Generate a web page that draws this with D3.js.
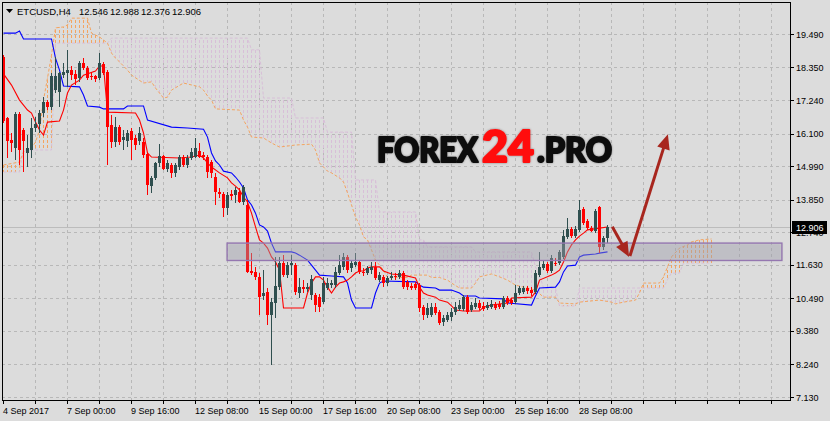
<!DOCTYPE html>
<html><head><meta charset="utf-8">
<script src="https://cdnjs.cloudflare.com/ajax/libs/d3/7.8.5/d3.min.js"></script>
<style>
html,body{margin:0;padding:0;background:#dcdcdc;overflow:hidden;}
svg{display:block;font-family:"Liberation Sans",Arial,sans-serif;}
</style></head><body>
<svg id="chart" width="830" height="421"></svg>
<script>
// ================= DATA =================
const symbol = "ETCUSD,H4";
const lastBar = [12.546, 12.988, 12.376, 12.906]; // open, high, low, close
const lastPrice = 12.906;
const priceTicks = [19.490, 18.350, 17.240, 16.100, 14.990, 13.850, 12.740, 11.630, 10.490, 9.380, 8.240, 7.130];
const timeLabels = ["4 Sep 2017", "7 Sep 00:00", "9 Sep 16:00", "12 Sep 08:00", "15 Sep 00:00",
                    "17 Sep 16:00", "20 Sep 08:00", "23 Sep 00:00", "25 Sep 16:00", "28 Sep 08:00"];

// H4 candles: [open, high, low, close]
const candles = [
[18.71,18.78,16.46,16.53],[16.63,16.66,15.27,15.85],[15.88,16.12,15.47,15.78],[15.61,16.83,15.20,16.77],
[16.77,16.83,15.03,15.54],[16.22,16.29,14.79,15.85],[15.44,16.05,14.96,15.61],[15.54,16.63,15.27,16.29],
[16.29,16.66,16.15,16.43],[16.43,16.90,16.12,16.80],[16.80,17.35,16.66,17.17],[17.17,17.24,16.90,17.00],
[17.00,18.16,16.90,18.06],[17.58,18.71,17.48,18.06],[17.51,18.20,17.00,18.16],[18.09,18.50,17.99,18.20],
[18.16,18.95,17.69,18.26],[18.26,18.40,17.92,18.09],[18.13,18.26,17.75,17.96],[17.99,18.57,17.86,18.50],
[18.50,18.67,18.26,18.33],[18.33,18.40,17.92,17.99],[18.06,18.20,17.92,18.03],[18.06,18.09,17.86,17.96],
[17.99,18.84,17.92,18.50],[18.47,18.54,18.09,18.16],[18.20,18.26,15.03,16.32],[16.39,16.73,15.61,15.81],
[15.81,16.66,15.64,16.32],[16.32,16.39,15.71,15.81],[15.88,16.22,15.54,15.98],[15.85,16.22,15.64,16.12],
[16.19,16.29,15.20,15.88],[15.95,16.05,15.54,15.71],[15.85,16.32,15.71,16.12],[15.81,15.95,15.27,15.37],
[15.40,15.47,14.01,14.35],[14.31,14.65,14.07,14.59],[14.59,15.13,14.52,15.10],[15.10,15.75,14.96,15.33],
[15.33,15.37,14.86,14.89],[14.89,15.20,14.79,15.10],[15.03,15.10,14.59,14.76],[14.76,15.10,14.62,15.03],
[14.96,15.37,14.86,15.30],[15.30,15.37,14.96,15.03],[15.03,15.37,14.93,15.27],[15.27,15.61,15.20,15.47],
[15.30,15.95,15.27,15.61],[15.51,15.78,15.27,15.30],[15.37,15.47,15.20,15.30],[15.30,15.37,14.59,14.79],
[15.13,15.20,14.59,14.76],[14.62,14.76,13.67,14.11],[14.11,14.24,13.91,14.04],[14.04,14.11,13.26,13.57],
[13.57,14.11,13.33,14.01],[14.04,14.18,13.84,13.97],[14.01,14.28,13.73,14.18],[14.11,14.24,13.73,13.77],
[13.77,14.35,13.67,14.28],[13.67,13.84,11.35,11.39],[11.42,12.03,11.28,11.35],[11.39,11.56,11.11,11.22],
[11.22,11.35,9.92,10.53],[10.57,11.45,10.43,10.67],[10.70,10.84,9.58,9.92],[9.92,10.50,8.22,10.36],
[10.33,11.90,9.82,10.91],[10.87,11.90,10.77,11.69],[11.69,11.96,11.22,11.28],[11.28,11.73,11.18,11.62],
[11.62,11.96,11.28,11.69],[11.62,11.69,10.60,10.70],[10.67,11.18,10.50,10.87],[10.87,11.11,10.67,10.80],
[10.80,11.01,10.70,10.87],[10.60,11.28,10.43,11.15],[10.60,10.67,10.02,10.26],[10.53,10.63,10.02,10.19],
[10.36,11.22,10.30,11.01],[10.84,11.18,10.77,11.01],[10.94,11.11,10.84,11.01],[10.94,11.56,10.84,11.39],
[11.35,11.96,11.28,11.62],[11.56,12.03,11.45,11.90],[11.90,11.96,11.35,11.45],[11.52,11.79,11.39,11.69],
[11.62,12.03,11.56,11.73],[11.73,11.79,11.32,11.39],[11.39,11.52,11.25,11.35],[11.35,11.59,11.28,11.52],
[11.45,11.73,11.32,11.56],[11.56,11.73,11.11,11.18],[11.11,11.39,11.05,11.28],[11.22,11.28,10.87,11.01],
[11.01,11.25,10.91,11.18],[11.18,11.39,11.11,11.25],[11.25,11.35,11.11,11.22],[11.22,11.45,11.15,11.35],
[11.35,11.42,10.80,10.87],[11.05,11.11,10.77,10.87],[10.91,11.01,10.77,10.84],[10.98,11.05,10.77,10.84],
[10.94,11.01,10.02,10.16],[10.19,10.26,9.75,9.92],[9.92,10.33,9.82,10.16],[9.92,10.33,9.85,10.19],
[10.19,10.33,9.92,9.99],[10.02,10.09,9.58,9.65],[9.68,9.92,9.55,9.82],[9.75,10.02,9.68,9.92],
[9.85,10.16,9.72,10.02],[10.02,10.36,9.92,10.19],[10.13,10.43,10.06,10.26],[10.13,10.60,10.06,10.53],
[10.53,10.60,9.96,10.02],[10.09,10.36,10.02,10.26],[10.19,10.50,10.13,10.33],[10.33,10.43,10.09,10.16],
[10.23,10.36,10.06,10.13],[10.16,10.36,10.09,10.26],[10.19,10.43,10.13,10.30],[10.30,10.36,10.09,10.16],
[10.30,10.40,10.13,10.19],[10.19,10.57,10.13,10.50],[10.50,10.57,10.26,10.33],[10.43,10.50,10.26,10.33],
[10.36,10.94,10.30,10.67],[10.67,10.91,10.60,10.84],[10.70,10.91,10.63,10.84],[10.84,10.91,10.63,10.74],
[10.77,10.87,10.57,10.67],[10.70,11.45,10.63,11.35],[11.28,12.07,11.22,11.56],[11.52,11.79,11.45,11.66],
[11.66,11.73,11.35,11.42],[11.42,11.96,11.35,11.86],[11.69,11.86,11.59,11.66],[11.69,12.14,11.62,12.07],
[11.90,12.82,11.83,12.61],[12.58,13.22,12.51,12.85],[12.85,12.92,12.54,12.61],[12.61,12.95,12.54,12.85],
[12.82,13.84,12.75,13.50],[13.53,13.60,12.98,13.05],[13.12,13.19,12.82,12.88],[12.88,12.95,12.75,12.78],
[12.78,13.53,12.71,13.46],[13.60,13.63,12.03,12.24],[12.24,12.61,12.14,12.54],[12.546,12.988,12.376,12.906]
];

// Ichimoku lines, read as [bar, price] vertices
const tenkan = [[0,18.13],[2,17.75],[4,17.24],[6,16.90],[7,16.80],[8,16.49],[9,16.22],[10,16.05],[11,16.49],[14,16.53],
[15,16.90],[16,17.48],[17,17.75],[19,17.92],[20,18.09],[23,18.23],[24,18.40],[25,18.40],[26,16.83],[33,16.80],
[34,16.56],[35,16.12],[36,15.44],[37,15.30],[44,15.27],[47,15.30],[49,15.37],[50,15.27],[51,15.10],[52,14.96],
[54,14.76],[56,14.59],[57,14.42],[58,14.31],[59,14.18],[60,13.94],[61,13.77],[62,13.39],[63,12.92],[64,12.48],
[65,12.37],[66,12.20],[67,11.90],[68,11.73],[69,11.45],[70,10.16],[75,10.16],[76,10.67],[77,11.01],[78,11.22],
[79,11.22],[80,11.11],[81,10.87],[82,10.67],[83,10.87],[84,11.01],[85,11.05],[86,11.11],[87,11.22],[88,11.35],
[89,11.42],[90,11.42],[91,11.52],[92,11.56],[94,11.56],[95,11.42],[97,11.32],[100,11.28],[103,11.18],[104,10.87],
[105,10.67],[106,10.60],[108,10.53],[109,10.43],[111,10.36],[112,10.23],[113,10.09],[115,10.06],[119,10.06],[120,10.19],
[122,10.26],[126,10.33],[127,10.50],[132,10.53],[133,10.70],[134,11.11],[137,11.28],[138,11.35],[139,11.45],[140,11.73],
[141,12.07],[142,12.31],[143,12.48],[144,12.61],[145,12.71],[146,12.82],[149,12.88],[151,12.92]];

const kijun = [[0,19.52],[3,19.52],[4,19.59],[5,19.32],[12,19.32],[13,18.67],[14,18.26],[15,17.72],[19,17.69],[20,17.41],
[21,17.04],[24,17.00],[25,16.94],[30,16.94],[31,17.04],[35,17.04],[36,16.56],[42,16.32],[46,16.29],[50,16.25],
[51,15.98],[52,15.44],[53,15.17],[54,15.03],[55,14.82],[57,14.76],[58,14.62],[59,14.45],[60,14.25],[61,13.84],
[62,13.67],[63,13.39],[64,12.99],[65,12.92],[66,12.78],[67,12.37],[68,12.07],[72,12.07],[73,12.03],[74,11.96],
[76,11.79],[77,11.62],[78,11.45],[79,11.28],[82,11.25],[85,11.22],[86,11.01],[87,10.43],[88,10.16],[92,10.16],
[93,10.67],[94,11.01],[95,11.08],[103,11.05],[104,10.94],[105,10.87],[108,10.84],[109,10.77],[112,10.77],[114,10.67],
[115,10.57],[118,10.57],[119,10.50],[125,10.47],[126,10.33],[132,10.26],[133,10.57],[134,10.84],[138,10.87],[139,11.05],
[140,11.39],[141,11.59],[143,11.62],[144,11.90],[145,11.96],[148,12.00],[149,12.03],[151,12.07]];

const spanA = [[0,15.03],[4,15.13],[5,15.47],[7,15.61],[8,15.81],[9,16.22],[10,17.24],[11,17.99],[12,18.77],[13,19.70],
[15,19.73],[16,19.80],[17,20.03],[21,20.03],[22,19.52],[24,19.39],[26,19.18],[27,18.84],[28,18.67],[29,18.54],
[31,18.26],[32,18.09],[35,17.82],[37,17.86],[38,17.65],[39,17.48],[40,17.31],[41,17.34],[42,17.58],[45,17.82],
[49,17.69],[50,17.58],[51,17.38],[52,17.24],[53,16.94],[59,16.90],[60,16.56],[61,16.32],[62,15.98],[65,15.95],
[67,15.78],[69,15.64],[73,15.71],[77,15.74],[78,15.54],[79,15.10],[81,14.82],[82,14.76],[84,14.59],[85,14.45],
[86,14.08],[87,13.67],[88,13.26],[89,12.99],[90,12.58],[91,12.48],[92,12.14],[93,11.79],[94,11.62],[95,11.45],
[96,11.20],[101,11.20],[102,11.28],[106,11.28],[107,11.20],[109,11.20],[110,11.15],[111,11.11],[112,11.01],[114,10.84],
[117,10.84],[118,11.01],[119,11.22],[122,11.32],[124,11.22],[126,11.11],[128,10.94],[131,10.84],[133,10.77],[135,10.53],
[138,10.53],[139,10.33],[143,10.30],[144,10.36],[149,10.43],[152,10.36],[153,10.30],[155,10.36],[158,10.43],[159,10.67],
[160,11.01],[164,11.01],[165,11.22],[166,11.56],[167,11.90],[169,12.20],[171,12.31],[172,12.41],[174,12.48],[177,12.51]];

const spanB = [[0,14.79],[4,14.79],[5,15.54],[12,15.54],[13,19.18],[26,19.18],[27,19.35],[61,19.35],[62,18.95],[64,18.95],
[65,17.31],[72,17.31],[73,16.63],[80,16.63],[81,16.15],[87,16.15],[88,14.52],[93,14.52],[94,13.43],[103,13.43],
[104,12.48],[105,12.48],[106,12.24],[117,12.24],[118,12.07],[132,12.07],[133,11.56],[134,11.29],[135,10.84],[138,10.84],
[139,10.23],[143,10.23],[144,10.84],[165,10.84],[166,11.13],[167,11.35],[169,11.35],[170,11.69],[177,11.69]];

// annotations (bar / price units)
const zone = { fromBar: 55.9, toBar: 194.6, low: 11.78, high: 12.37 };
const arrowDown = [[152.2, 12.93], [156.4, 11.90]];
const arrowUp = [[156.6, 11.93], [166.1, 16.08]];

// ================= DRAW =================
const svg = d3.select("#chart");
const L = 2, R = 790, T = 2, B = 400;
const x = d3.scaleLinear().domain([0, 196.625]).range([3.5, 790]);
const y = d3.scaleLinear().domain([7.13, 19.49]).range([397, 34]);
const step = x(1) - x(0);

svg.append("rect").attr("width", 830).attr("height", 421).attr("fill", "#dcdcdc");

const defs = svg.append("defs");
const plotClip = defs.append("clipPath").attr("id", "plot");
plotClip.append("rect").attr("x", L).attr("y", T).attr("width", R - L).attr("height", B - T);

// grid
const grid = svg.append("g").attr("stroke", "#b8b8b8").attr("stroke-width", 1).attr("stroke-dasharray", "3,3")
  .attr("shape-rendering", "crispEdges");
grid.selectAll("line.h").data(priceTicks).join("line")
  .attr("x1", L).attr("x2", R)
  .attr("y1", d => Math.round(y(d)) + 0.5).attr("y2", d => Math.round(y(d)) + 0.5);
const vBars = d3.range(8, 197, 8);
grid.selectAll("line.v").data(vBars).join("line")
  .attr("x1", d => x(d)).attr("x2", d => x(d)).attr("y1", T).attr("y2", B);

// price line
svg.append("line").attr("x1", L).attr("x2", R)
  .attr("y1", Math.round(y(lastPrice)) + 0.5).attr("y2", Math.round(y(lastPrice)) + 0.5)
  .attr("stroke", "#bcbcbc").attr("shape-rendering", "crispEdges");

// watermark (one text element, heavy letters)
const glow = defs.append("filter").attr("id", "glow").attr("x", "-10%").attr("y", "-30%").attr("width", "120%").attr("height", "160%");
glow.append("feDropShadow").attr("dx", 0).attr("dy", 0).attr("stdDeviation", 1.2).attr("flood-color", "#000").attr("flood-opacity", 0.4);
const wm = svg.append("text").attr("x", 377).attr("y", 162)
  .attr("font-family", "Lato, 'Open Sans', sans-serif").attr("font-weight", 900)
  .attr("stroke-linejoin", "round").attr("paint-order", "stroke").attr("filter", "url(#glow)");
wm.append("tspan").attr("font-size", 34).attr("fill", "#111").attr("stroke", "#111").attr("stroke-width", 2.2)
  .attr("textLength", 101).attr("lengthAdjust", "spacingAndGlyphs").text("FOREX");
wm.append("tspan").attr("x", 482).attr("font-size", 44).attr("fill", "#ff1010").attr("stroke", "#ff1010").attr("stroke-width", 2.2)
  .attr("textLength", 52).attr("lengthAdjust", "spacingAndGlyphs").text("24");
wm.append("tspan").attr("x", 537).attr("font-size", 34).attr("fill", "#111").attr("stroke", "#111").attr("stroke-width", 2.2)
  .attr("textLength", 75).attr("lengthAdjust", "spacingAndGlyphs").text(".PRO");

// ---- Ichimoku cloud ----
function region(id, pts, side) {
  const edge = side === "below" ? B : T;
  const p = pts.map(d => [x(d[0]), y(d[1])]);
  p.unshift([p[0][0] - 1.5, p[0][1]]);
  p.push([p[p.length - 1][0] + 1.5, p[p.length - 1][1]]);
  p.push([p[p.length - 1][0], edge]);
  p.push([p[0][0], edge]);
  defs.append("clipPath").attr("id", id).append("path").attr("d", "M" + p.join("L") + "Z");
}
region("belowA", spanA, "below"); region("aboveA", spanA, "above");
region("belowB", spanB, "below"); region("aboveB", spanB, "above");

function hatch(id, color) {
  const p = defs.append("pattern").attr("id", id).attr("patternUnits", "userSpaceOnUse")
    .attr("x", x(0) - 0.5).attr("y", 0).attr("width", step).attr("height", 5);
  p.append("rect").attr("x", 0).attr("y", 0).attr("width", 1).attr("height", 3).attr("fill", color);
}
hatch("hSandy", "#f4a460"); hatch("hThistle", "#d8bfd8");
const cloudX0 = x(0) - 1, cloudX1 = x(spanA[spanA.length - 1][0]) + 1;
function cloud(c1, c2, pat) {
  svg.append("g").attr("clip-path", `url(#${c1})`).append("g").attr("clip-path", `url(#${c2})`)
    .append("rect").attr("x", cloudX0).attr("y", T).attr("width", cloudX1 - cloudX0).attr("height", B - T)
    .attr("fill", `url(#${pat})`);
}
cloud("belowA", "aboveB", "hSandy");
cloud("belowB", "aboveA", "hThistle");

const line = d3.line().x(d => x(d[0])).y(d => y(d[1]));
const lines = svg.append("g").attr("clip-path", "url(#plot)").attr("fill", "none");
lines.append("path").attr("d", line(spanB)).attr("stroke", "#d8bfd8").attr("stroke-dasharray", "3,2");
lines.append("path").attr("d", line(spanA)).attr("stroke", "#f4a460").attr("stroke-dasharray", "3,2");

// ---- candles ----
const cg = svg.append("g").attr("shape-rendering", "crispEdges");
const bull = d => d[3] >= d[0];
cg.selectAll("line.w").data(candles).join("line")
  .attr("x1", (d, i) => x(i)).attr("x2", (d, i) => x(i))
  .attr("y1", d => y(d[1])).attr("y2", d => y(d[2]))
  .attr("stroke", d => bull(d) ? "#2f4f4f" : "#ff0000");
cg.selectAll("rect.b").data(candles).join("rect")
  .attr("x", (d, i) => x(i) - 1.5).attr("width", 3)
  .attr("y", d => y(Math.max(d[0], d[3])))
  .attr("height", d => Math.max(1, y(Math.min(d[0], d[3])) - y(Math.max(d[0], d[3]))))
  .attr("fill", d => bull(d) ? "#2f4f4f" : "#ff0000");

// Tenkan / Kijun
lines.append("path").attr("d", line(kijun)).attr("stroke", "#0000ff").attr("stroke-width", 1.1);
lines.append("path").attr("d", line(tenkan)).attr("stroke", "#ff0000").attr("stroke-width", 1.1);

// ---- zone ----
const zShadow = defs.append("filter").attr("id", "zsh").attr("x", "-5%").attr("y", "-50%").attr("width", "110%").attr("height", "200%");
zShadow.append("feGaussianBlur").attr("stdDeviation", 1.2);
const zx0 = x(zone.fromBar), zx1 = x(zone.toBar), zy0 = y(zone.high), zy1 = y(zone.low);
svg.append("rect").attr("x", zx0).attr("y", zy0).attr("width", zx1 - zx0).attr("height", zy1 - zy0)
  .attr("fill", "#9c9ca8").attr("fill-opacity", 0.45).attr("filter", "url(#zsh)");
svg.append("rect").attr("x", zx0).attr("y", zy0).attr("width", zx1 - zx0).attr("height", zy1 - zy0)
  .attr("fill", "none").attr("stroke", "#9577b0").attr("stroke-width", 1.4);

// ---- arrows ----
const ac = "#a8261e";
function arrow(a) {
  const x0 = x(a[0][0]), y0 = y(a[0][1]), x1 = x(a[1][0]), y1 = y(a[1][1]);
  const dx = x1 - x0, dy = y1 - y0, len = Math.hypot(dx, dy), ux = dx / len, uy = dy / len;
  const hl = 15, hw = 6.5, bx = x1 - ux * hl, by = y1 - uy * hl;
  svg.append("line").attr("x1", x0).attr("y1", y0).attr("x2", bx + ux * 3).attr("y2", by + uy * 3)
    .attr("stroke", ac).attr("stroke-width", 3);
  svg.append("path").attr("d", `M${x1},${y1}L${bx - uy * hw},${by + ux * hw}L${bx + uy * hw},${by - ux * hw}Z`)
    .attr("fill", ac);
}
arrow(arrowDown); arrow(arrowUp);

// ---- frame & axes ----
const frame = svg.append("g").attr("stroke", "#000").attr("shape-rendering", "crispEdges");
frame.append("line").attr("x1", L + 0.5).attr("x2", L + 0.5).attr("y1", T).attr("y2", B + 1);
frame.append("line").attr("x1", L).attr("x2", R + 1).attr("y1", T + 0.5).attr("y2", T + 0.5);
frame.append("line").attr("x1", R + 0.5).attr("x2", R + 0.5).attr("y1", T).attr("y2", B + 1);
frame.append("line").attr("x1", L).attr("x2", R + 1).attr("y1", B + 0.5).attr("y2", B + 0.5);

const ya = svg.append("g");
ya.selectAll("line").data(priceTicks).join("line")
  .attr("x1", R).attr("x2", R + 4)
  .attr("y1", d => Math.round(y(d)) + 0.5).attr("y2", d => Math.round(y(d)) + 0.5)
  .attr("stroke", "#000").attr("shape-rendering", "crispEdges");
ya.selectAll("text").data(priceTicks).join("text")
  .attr("x", 796).attr("y", d => y(d) + 3.5).attr("font-size", 9).attr("fill", "#000")
  .text(d => d.toFixed(3));

const xa = svg.append("g");
xa.selectAll("line").data(d3.range(0, 197, 8)).join("line")
  .attr("x1", d => x(d)).attr("x2", d => x(d)).attr("y1", B).attr("y2", B + 4)
  .attr("stroke", "#000").attr("shape-rendering", "crispEdges");
xa.selectAll("text").data(timeLabels).join("text")
  .attr("x", (d, i) => x(i * 16) - 0.5).attr("y", 413.5).attr("font-size", 9).attr("fill", "#000")
  .text(d => d);

// last price tag
const ly = y(lastPrice);
svg.append("rect").attr("x", 792).attr("y", Math.round(ly) - 6).attr("width", 35).attr("height", 13).attr("fill", "#000");
svg.append("text").attr("x", 796).attr("y", ly + 3.5).attr("font-size", 9).attr("fill", "#fff").text(lastPrice.toFixed(3));

// title
svg.append("path").attr("d", "M6,9L13,9L9.5,13Z").attr("fill", "#000");
const tt = svg.append("g").attr("font-size", 9.5).attr("fill", "#000");
tt.append("text").attr("x", 17).attr("y", 15).text(symbol);
const titleX = [79, 110, 141, 172];
lastBar.forEach((v, i) => tt.append("text").attr("x", titleX[i]).attr("y", 15).text(v.toFixed(3)));
</script>
</body></html>
